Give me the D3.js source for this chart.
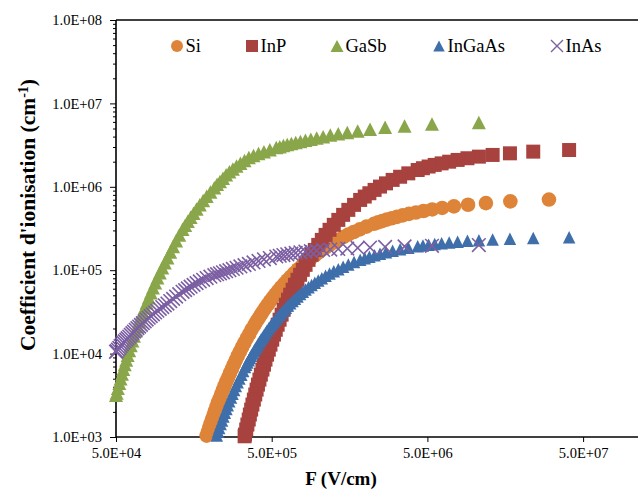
<!DOCTYPE html>
<html>
<head>
<meta charset="utf-8">
<script src="https://cdn.jsdelivr.net/npm/d3@7"></script>
<style>
  body { margin: 0; background: #fff; }
  svg { display: block; font-family: "Liberation Serif", "Times New Roman", serif; }
</style>
</head>
<body>
<div id="chart"></div>
<script>
// ionisation coefficient (cm-1) against field F (V/cm)

var fieldSi = [3.017e7, 1.705e7, 1.188e7, 9.12e6, 7.40e6, 6.22e6, 5.37e6, 4.72e6, 4.22e6, 3.81e6, 3.47e6, 3.19e6, 2.95e6, 2.74e6, 2.56e6, 2.41e6, 2.27e6,
  2.03e6, 1.84e6, 1.68e6, 1.55e6, 1.44e6, 1.34e6, 1.25e6, 1.18e6, 1.11e6, 1.05e6, 9.98e5, 9.50e5,
  8.85e5, 8.29e5, 7.80e5, 7.36e5, 6.97e5, 6.61e5, 6.29e5, 6.01e5, 5.74e5, 5.50e5, 5.28e5, 5.07e5, 4.88e5, 4.71e5, 4.54e5, 4.39e5, 4.25e5, 4.12e5, 3.99e5, 3.87e5,
  3.72e5, 3.59e5, 3.46e5, 3.34e5, 3.23e5, 3.13e5, 3.03e5, 2.94e5, 2.86e5, 2.78e5, 2.70e5, 2.63e5, 2.56e5, 2.49e5, 2.43e5, 2.37e5, 2.32e5, 2.26e5, 2.21e5, 2.16e5, 2.12e5, 2.07e5, 2.03e5, 1.99e5, 1.95e5, 1.91e5]
var alphaSi = [7.03e5, 6.69e5, 6.38e5, 6.09e5, 5.83e5, 5.58e5, 5.35e5, 5.13e5, 4.92e5, 4.73e5, 4.54e5, 4.36e5, 4.20e5, 4.04e5, 3.88e5, 3.74e5, 3.60e5,
  3.33e5, 3.09e5, 2.87e5, 2.67e5, 2.49e5, 2.31e5, 2.16e5, 2.01e5, 1.87e5, 1.75e5, 1.63e5, 1.52e5,
  1.37e5, 1.24e5, 1.12e5, 1.02e5, 9.19e4, 8.33e4, 7.55e4, 6.85e4, 6.22e4, 5.65e4, 5.13e4, 4.66e4, 4.24e4, 3.86e4, 3.51e4, 3.19e4, 2.91e4, 2.65e4, 2.42e4, 2.20e4,
  1.95e4, 1.72e4, 1.53e4, 1.35e4, 1.20e4, 1.06e4, 9.42e3, 8.36e3, 7.44e3, 6.60e3, 5.86e3, 5.21e3, 4.63e3, 4.12e3, 3.67e3, 3.26e3, 2.91e3, 2.59e3, 2.31e3, 2.06e3, 1.84e3, 1.64e3, 1.46e3, 1.30e3, 1.16e3, 1.04e3]

var fieldInP = [4.065e7, 2.392e7, 1.695e7, 1.312e7, 1.071e7, 9.04e6, 7.82e6, 6.90e6, 6.17e6, 5.57e6, 5.09e6, 4.68e6, 4.33e6,
  3.77e6, 3.34e6, 2.99e6, 2.71e6, 2.48e6, 2.29e6, 2.12e6, 1.98e6, 1.85e6,
  1.69e6, 1.553e6, 1.438e6, 1.339e6, 1.252e6, 1.176e6, 1.109e6, 1.049e6, 9.95e5, 9.46e5, 9.02e5, 8.62e5, 8.25e5, 7.92e5, 7.61e5, 7.32e5, 7.05e5, 6.81e5, 6.57e5, 6.36e5,
  6.16e5, 5.97e5, 5.79e5, 5.62e5, 5.46e5, 5.31e5, 5.17e5, 5.04e5, 4.91e5, 4.79e5, 4.67e5, 4.56e5, 4.46e5, 4.36e5, 4.26e5, 4.17e5, 4.08e5, 4.00e5, 3.92e5, 3.84e5,
  3.76e5, 3.69e5, 3.62e5, 3.56e5, 3.49e5, 3.43e5, 3.37e5, 3.35e5]
var alphaInP = [2.76e6, 2.64e6, 2.52e6, 2.41e6, 2.30e6, 2.20e6, 2.10e6, 2.00e6, 1.91e6, 1.83e6, 1.75e6, 1.67e6, 1.59e6,
  1.45e6, 1.32e6, 1.21e6, 1.10e6, 1.006e6, 9.18e5, 8.37e5, 7.64e5, 6.96e5,
  6.07e5, 5.29e5, 4.61e5, 4.01e5, 3.50e5, 3.05e5, 2.65e5, 2.31e5, 2.01e5, 1.75e5, 1.53e5, 1.33e5, 1.16e5, 1.01e5, 8.81e4, 7.68e4, 6.69e4, 5.83e4, 5.08e4, 4.43e4,
  3.85e4, 3.36e4, 2.93e4, 2.55e4, 2.22e4, 1.93e4, 1.69e4, 1.47e4, 1.28e4, 1.115e4, 9.71e3, 8.46e3, 7.37e3, 6.43e3, 5.60e3, 4.88e3, 4.25e3, 3.70e3, 3.23e3, 2.81e3,
  2.45e3, 2.13e3, 1.86e3, 1.62e3, 1.41e3, 1.23e3, 1.07e3, 1.02e3]

var fieldGaSb = [1.07e7, 5.35e6, 3.567e6, 2.675e6, 2.14e6, 1.783e6, 1.529e6, 1.338e6, 1.189e6, 1.07e6, 9.727e5, 8.917e5, 8.231e5, 7.643e5, 7.133e5, 6.688e5, 6.294e5, 5.944e5, 5.632e5, 5.35e5,
  4.864e5, 4.458e5, 4.115e5, 3.821e5, 3.567e5, 3.344e5, 3.147e5, 2.972e5, 2.816e5, 2.675e5, 2.548e5, 2.432e5, 2.326e5, 2.229e5, 2.14e5,
  2.019e5, 1.911e5, 1.814e5, 1.726e5, 1.646e5, 1.574e5, 1.507e5, 1.446e5, 1.39e5, 1.338e5,
  1.274e5, 1.216e5, 1.163e5, 1.115e5, 1.07e5,
  1.029e5, 9.91e4, 9.55e4, 9.22e4, 8.92e4, 8.63e4, 8.36e4, 8.11e4, 7.87e4, 7.64e4, 7.43e4, 7.23e4, 7.04e4, 6.86e4, 6.69e4, 6.52e4, 6.37e4, 6.22e4, 6.08e4, 5.94e4,
  5.82e4, 5.69e4, 5.57e4, 5.46e4, 5.35e4, 5.25e4, 5.14e4, 5.05e4, 5.0e4]
var alphaGaSb = [5.90e6, 5.66e6, 5.36e6, 5.16e6, 4.90e6, 4.68e6, 4.47e6, 4.32e6, 4.17e6, 3.98e6, 3.85e6, 3.72e6, 3.61e6, 3.49e6, 3.39e6, 3.30e6, 3.21e6, 3.12e6, 3.03e6, 2.95e6,
  2.79e6, 2.64e6, 2.50e6, 2.37e6, 2.24e6, 2.07e6, 1.91e6, 1.77e6, 1.64e6, 1.51e6, 1.39e6, 1.27e6, 1.16e6, 1.07e6, 9.77e5,
  8.69e5, 7.73e5, 6.87e5, 6.11e5, 5.43e5, 4.83e5, 4.31e5, 3.85e5, 3.45e5, 3.09e5,
  2.64e5, 2.26e5, 1.93e5, 1.65e5, 1.41e5,
  1.23e5, 1.07e5, 9.33e4, 8.13e4, 7.08e4, 6.17e4, 5.37e4, 4.68e4, 4.07e4, 3.55e4, 3.12e4, 2.74e4, 2.41e4, 2.12e4, 1.86e4, 1.63e4, 1.43e4, 1.25e4, 1.09e4, 9.55e3,
  8.39e3, 7.38e3, 6.49e3, 5.70e3, 5.01e3, 4.40e3, 3.85e3, 3.38e3, 3.16e3]

var fieldInGaAs = [4.065e7, 2.392e7, 1.695e7, 1.312e7, 1.071e7, 9.04e6, 7.82e6, 6.90e6, 6.17e6, 5.57e6, 5.09e6, 4.68e6, 4.33e6,
  3.77e6, 3.34e6, 2.99e6, 2.71e6, 2.48e6, 2.29e6, 2.12e6, 1.98e6, 1.85e6,
  1.69e6, 1.553e6, 1.438e6, 1.339e6, 1.252e6, 1.176e6, 1.109e6, 1.049e6, 9.95e5, 9.46e5, 9.02e5, 8.62e5, 8.25e5, 7.92e5, 7.61e5, 7.32e5, 7.05e5, 6.81e5, 6.57e5, 6.36e5,
  6.16e5, 5.97e5, 5.79e5, 5.62e5, 5.46e5, 5.31e5, 5.17e5, 5.04e5, 4.91e5, 4.79e5, 4.67e5, 4.56e5, 4.46e5, 4.36e5, 4.26e5, 4.17e5, 4.08e5, 4.00e5, 3.92e5, 3.84e5,
  3.76e5, 3.69e5, 3.62e5, 3.56e5, 3.49e5, 3.43e5, 3.37e5,
  3.28e5, 3.19e5, 3.10e5, 3.02e5, 2.94e5, 2.87e5, 2.80e5, 2.74e5, 2.67e5, 2.61e5, 2.56e5, 2.50e5, 2.45e5, 2.40e5, 2.35e5, 2.30e5, 2.26e5, 2.22e5]
var alphaInGaAs = [2.49e5, 2.44e5, 2.39e5, 2.34e5, 2.29e5, 2.25e5, 2.20e5, 2.15e5, 2.11e5, 2.06e5, 2.02e5, 1.98e5, 1.94e5,
  1.86e5, 1.78e5, 1.71e5, 1.64e5, 1.57e5, 1.51e5, 1.45e5, 1.39e5, 1.33e5,
  1.25e5, 1.17e5, 1.10e5, 1.03e5, 9.70e4, 9.11e4, 8.55e4, 8.03e4, 7.54e4, 7.08e4, 6.65e4, 6.24e4, 5.86e4, 5.50e4, 5.17e4, 4.85e4, 4.56e4, 4.28e4, 4.02e4, 3.77e4,
  3.54e4, 3.32e4, 3.12e4, 2.93e4, 2.75e4, 2.58e4, 2.43e4, 2.28e4, 2.14e4, 2.01e4, 1.89e4, 1.77e4, 1.66e4, 1.56e4, 1.47e4, 1.38e4, 1.29e4, 1.21e4, 1.14e4, 1.07e4,
  1.005e4, 9.44e3, 8.86e3, 8.32e3, 7.81e3, 7.34e3, 6.89e3,
  6.20e3, 5.58e3, 5.03e3, 4.53e3, 4.08e3, 3.67e3, 3.30e3, 2.97e3, 2.68e3, 2.41e3, 2.17e3, 1.96e3, 1.76e3, 1.58e3, 1.43e3, 1.28e3, 1.16e3, 1.04e3]

var fieldInAs = fieldGaSb.slice()
var alphaInAs = [2.00e5, 1.96e5, 1.93e5, 1.90e5, 1.87e5, 1.85e5, 1.82e5, 1.80e5, 1.77e5, 1.75e5, 1.72e5, 1.69e5, 1.67e5, 1.64e5, 1.61e5, 1.58e5, 1.55e5, 1.52e5, 1.49e5, 1.46e5,
  1.40e5, 1.35e5, 1.29e5, 1.24e5, 1.19e5, 1.15e5, 1.11e5, 1.07e5, 1.035e5, 1.00e5, 9.73e4, 9.44e4, 9.18e4, 8.95e4, 8.71e4,
  8.36e4, 8.04e4, 7.67e4, 7.33e4, 7.00e4, 6.67e4, 6.35e4, 6.05e4, 5.77e4, 5.50e4,
  5.15e4, 4.83e4, 4.53e4, 4.26e4, 3.98e4,
  3.79e4, 3.61e4, 3.44e4, 3.27e4, 3.11e4, 2.96e4, 2.82e4, 2.69e4, 2.56e4, 2.44e4, 2.32e4, 2.21e4, 2.11e4, 2.02e4, 1.93e4, 1.84e4, 1.76e4, 1.68e4, 1.60e4, 1.53e4,
  1.47e4, 1.41e4, 1.35e4, 1.29e4, 1.23e4, 1.17e4, 1.12e4, 1.07e4, 1.05e4]

var seriesNames = ['Si', 'InP', 'GaSb', 'InGaAs', 'InAs']
var yTicks = [1e3, 1e4, 1e5, 1e6, 1e7, 1e8]
var xTicks = [5e4, 5e5, 5e6, 5e7]

var W = 638, H = 490
var plotLeft = 116, plotRight = 638, plotTop = 20, plotBottom = 437
var decade = 155.7
var serif = 'Liberation Serif, Times New Roman, serif'

var svg = d3.select('#chart').append('svg').attr('width', W).attr('height', H)

var x = d3.scaleLog().domain([5e4, 5e7]).range([plotLeft, plotLeft + 3 * decade])
var y = d3.scaleLog().domain([1e3, 1e8]).range([plotBottom, plotTop])

// marker shapes
function tri(w, h) { return 'M0,' + (-h / 2) + 'L' + (w / 2) + ',' + (h / 2) + 'L' + (-w / 2) + ',' + (h / 2) + 'Z' }
function cross(s) { return 'M' + (-s) + ',' + (-s) + 'L' + s + ',' + s + 'M' + (-s) + ',' + s + 'L' + s + ',' + (-s) }

var styles = {
  Si:     { color: '#DE8439', path: d3.symbol(d3.symbolCircle, Math.PI * 7.3 * 7.3)(), legend: d3.symbol(d3.symbolCircle, Math.PI * 6 * 6)() },
  InP:    { color: '#A8423F', path: d3.symbol(d3.symbolSquare, 14 * 14)(), legend: d3.symbol(d3.symbolSquare, 12 * 12)() },
  GaSb:   { color: '#8AA64A', path: tri(14, 13.5), legend: tri(13, 12) },
  InGaAs: { color: '#3F6FAA', path: tri(12.5, 12.5), legend: tri(11.5, 11) },
  InAs:   { color: '#7C5FA3', path: cross(6.8), legend: cross(6), stroke: true }
}

var data = {
  Si: d3.zip(fieldSi, alphaSi),
  InP: d3.zip(fieldInP, alphaInP),
  GaSb: d3.zip(fieldGaSb, alphaGaSb),
  InGaAs: d3.zip(fieldInGaAs, alphaInGaAs),
  InAs: d3.zip(fieldInAs, alphaInAs)
}

// axes
var gy = svg.append('g').attr('transform', 'translate(' + plotLeft + ',0)')
var minor = []
yTicks.slice(0, -1).forEach(function (t) { for (var m = 2; m < 10; m++) minor.push(t * m) })
gy.append('g').call(d3.axisLeft(y).tickValues(minor).tickSize(3).tickFormat(''))
gy.append('g').call(d3.axisLeft(y).tickValues(yTicks).tickSize(6).tickPadding(8)
  .tickFormat(function (d) { return '1.0E+0' + Math.round(Math.log10(d)) }))
gy.selectAll('.domain').remove()
gy.selectAll('line').attr('stroke', '#000').attr('stroke-width', 1)
gy.selectAll('g').attr('font-family', serif).attr('font-size', 14.5)
gy.selectAll('text').attr('fill', '#000')

var gx = svg.append('g').attr('transform', 'translate(0,' + plotBottom + ')')
gx.call(d3.axisBottom(x).tickValues(xTicks).tickSize(5).tickPadding(6)
  .tickFormat(function (d) { return '5.0E+0' + Math.round(Math.log10(d / 5)) }))
gx.selectAll('.domain').remove()
gx.attr('font-family', serif).attr('font-size', 14.5)
gx.selectAll('line').attr('stroke', '#000').attr('stroke-width', 1)
gx.selectAll('text').attr('fill', '#000')

svg.append('line').attr('x1', plotLeft).attr('x2', plotLeft).attr('y1', plotTop).attr('y2', plotBottom)
  .attr('stroke', '#000').attr('stroke-width', 1.6)
svg.append('line').attr('x1', plotLeft).attr('x2', plotRight).attr('y1', plotBottom).attr('y2', plotBottom)
  .attr('stroke', '#000').attr('stroke-width', 1.6)
svg.append('line').attr('x1', plotLeft).attr('x2', plotRight).attr('y1', plotTop).attr('y2', plotTop)
  .attr('stroke', '#000').attr('stroke-width', 1.6)

// series
seriesNames.forEach(function (name) {
  var st = styles[name]
  var g = svg.append('g').attr('class', 'series-' + name)
  g.selectAll('path').data(data[name]).enter().append('path')
    .attr('transform', function (d) { return 'translate(' + x(d[0]) + ',' + y(d[1]) + ')' })
    .attr('d', st.path)
    .attr('fill', st.stroke ? 'none' : st.color)
    .attr('stroke', st.stroke ? st.color : 'none')
    .attr('stroke-width', st.stroke ? 1.6 : 0)
})

// legend
var legendX = [177, 252, 337, 439, 557]
var legend = svg.append('g').attr('font-family', serif)
seriesNames.forEach(function (name, i) {
  var st = styles[name]
  legend.append('path').attr('transform', 'translate(' + legendX[i] + ',46)')
    .attr('d', st.legend)
    .attr('fill', st.stroke ? 'none' : st.color)
    .attr('stroke', st.stroke ? st.color : 'none')
    .attr('stroke-width', st.stroke ? 1.4 : 0)
  legend.append('text').attr('x', legendX[i] + 8.5).attr('y', 52)
    .attr('font-size', 18.5).attr('fill', '#000').text(name)
})

// titles
svg.append('text').attr('x', 341).attr('y', 485).attr('text-anchor', 'middle')
  .attr('font-family', serif).attr('font-size', 19).attr('font-weight', 'bold').text('F (V/cm)')

var yt = svg.append('text').attr('transform', 'translate(35,215) rotate(-90)')
  .attr('text-anchor', 'middle').attr('font-family', serif).attr('font-size', 21.5).attr('font-weight', 'bold')
yt.append('tspan').text("Coefficient d'ionisation (cm")
yt.append('tspan').attr('dy', -7.5).attr('font-size', 14).text('-1')
yt.append('tspan').attr('dy', 7.5).text(')')
</script>
</body>
</html>
